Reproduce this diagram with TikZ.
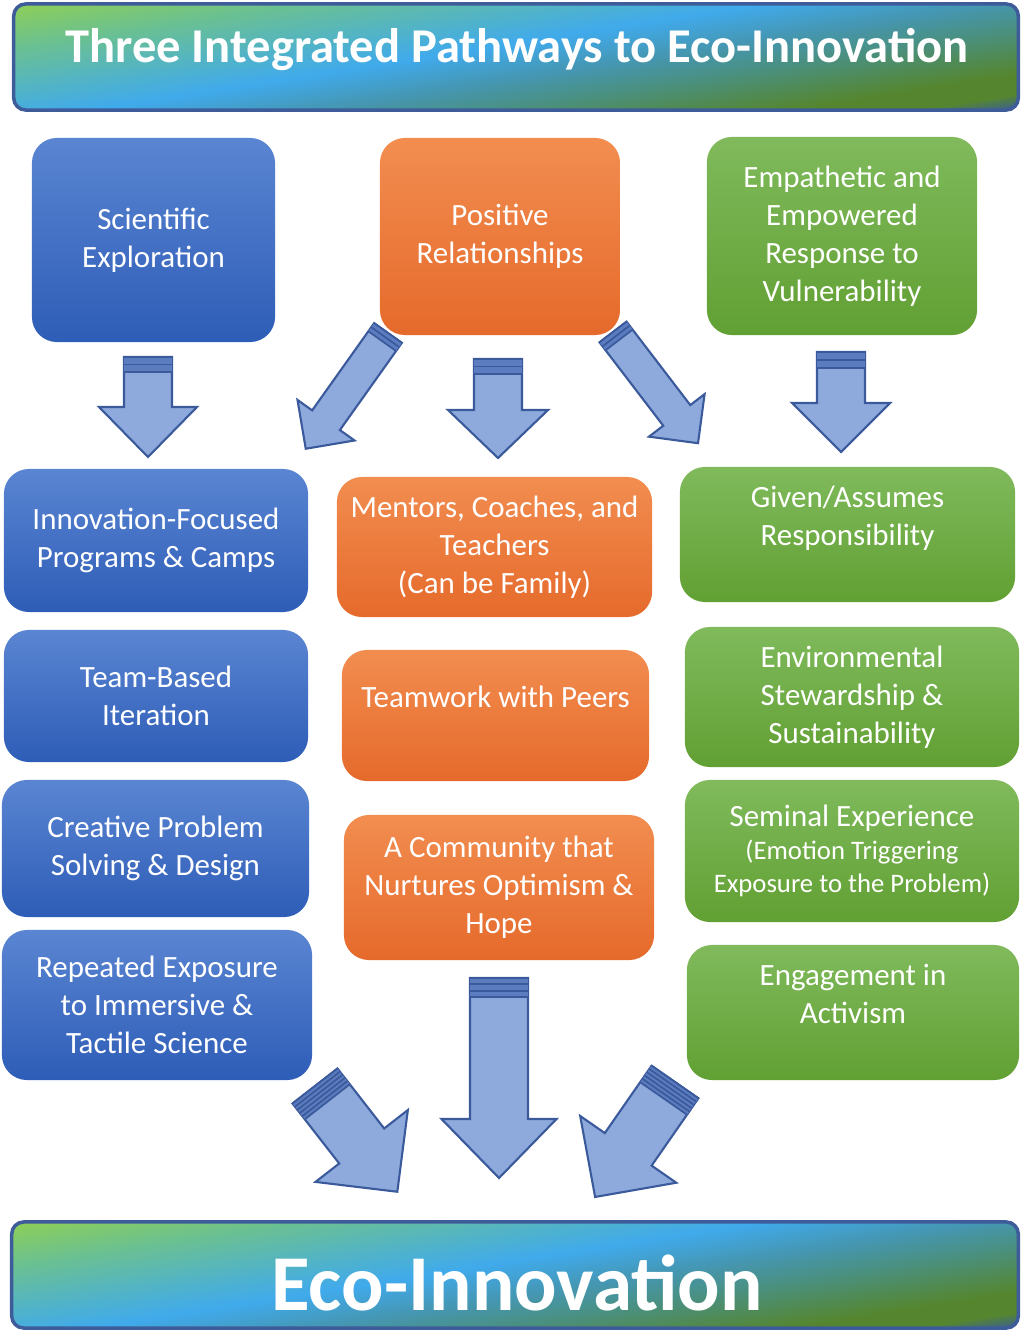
\documentclass[tikz,border=0pt]{standalone}
\usepackage{fontspec}
\setmainfont{Carlito}
\definecolor{BlueTop}{HTML}{5A85D2}
\definecolor{BlueBot}{HTML}{2E5DB7}
\definecolor{OrangeTop}{HTML}{F28D50}
\definecolor{OrangeBot}{HTML}{E56A2B}
\definecolor{GreenTop}{HTML}{80BA5C}
\definecolor{GreenBot}{HTML}{61A033}
\definecolor{ArrowFill}{HTML}{8EAADC}
\definecolor{ArrowEdge}{HTML}{3A5A9C}
\definecolor{ArrowBand}{HTML}{5C7CC0}
\definecolor{BarEdge}{HTML}{3E5C9A}
\definecolor{BarDark}{HTML}{3B5C9C}
\definecolor{BarOlive}{HTML}{55862F}
\definecolor{BarTeal}{HTML}{4A9080}
\definecolor{BarSlate}{HTML}{4596B0}
\definecolor{BarBlue}{HTML}{40AAEC}
\definecolor{BarAqua}{HTML}{55B5C0}
\definecolor{BarMint}{HTML}{6AC092}
\definecolor{BarLime}{HTML}{8ECF56}
\pgfdeclareverticalshading{ecobar}{100bp}{color(0bp)=(BarDark); color(43.5bp)=(BarDark);
  color(44.3bp)=(BarOlive); color(45.3bp)=(BarOlive); color(47.5bp)=(BarTeal);
  color(48.9bp)=(BarSlate); color(50.7bp)=(BarBlue); color(52.5bp)=(BarAqua);
  color(54.3bp)=(BarMint); color(56.5bp)=(BarLime); color(100bp)=(BarLime)}
\tikzset{
  pathbox/.style={rounded corners=0.25cm, inner sep=0pt, outer sep=0pt, align=center,
    text=white, font=\fontsize{8.8}{10.8}\selectfont},
  bluebox/.style={pathbox, top color=BlueTop, bottom color=BlueBot},
  orangebox/.style={pathbox, top color=OrangeTop, bottom color=OrangeBot},
  greenbox/.style={pathbox, top color=GreenTop, bottom color=GreenBot},
  ecobarbox/.style={rounded corners=0.12cm, inner sep=0pt, draw=BarEdge, line width=1pt,
    minimum height=1.06cm, path picture={
      \shade[shading=ecobar, shading angle=9]
        ([shift={(-505,-505)}]path picture bounding box.center) rectangle
        ([shift={(505,505)}]path picture bounding box.center);}},
  bartext/.style={anchor=base, text=white},
  arrowbody/.style={fill=ArrowFill, draw=ArrowEdge, line width=0.6pt, line join=miter},
  arrowband/.style={fill=ArrowBand},
  arrowline/.style={draw=ArrowEdge, line width=0.5pt}
}
% block arrow: tail, angle, length, shaft, head width, head length, band, lines
\newcommand{\BlockArrow}[8]{%
  \begin{scope}[shift={#1}, rotate=#2]
    \draw[arrowbody] (-#4/2,0) -- (-#4/2,#3-#6) -- (-#5/2,#3-#6) -- (0,#3)
      -- (#5/2,#3-#6) -- (#4/2,#3-#6) -- (#4/2,0) -- cycle;
    \fill[arrowband] (-#4/2,0) rectangle (#4/2,#7);
    \draw[arrowline] (-#4/2,0) -- (#4/2,0);
    \foreach \k in {1,...,#8}
      \draw[arrowline] (-#4/2,{#7*\k/#8}) -- (#4/2,{#7*\k/#8});
  \end{scope}}

\begin{document}
\begin{tikzpicture}[x=0.01cm, y=-0.01cm]
\useasboundingbox (0,0) rectangle (1021,1331);

% title bar
\node[ecobarbox, minimum width=10.04cm] (title) at (516,57) {};
\node[bartext, font=\fontsize{13.8}{16}\bfseries] (titletext) at (517,63)
  {Three Integrated Pathways to Eco-Innovation};

% three pathways
\node[bluebox, minimum width=2.43cm, minimum height=2.04cm] (sciexp) at (153.5,240)
  {Scientific\\Exploration};
\node[orangebox, minimum width=2.40cm, minimum height=1.97cm] (posrel) at (500,236.5)
  {Positive\\Relationships};
\node[greenbox, minimum width=2.70cm, minimum height=1.98cm] (empath) at (842,236)
  {Empathetic and\\Empowered\\Response to\\Vulnerability};

% arrows from the pathways
\BlockArrow{(148,357)}{0}{100}{48}{98}{50}{15}{2}
\BlockArrow{(498,359)}{0}{99}{48}{100}{48}{15}{2}
\BlockArrow{(841,352)}{0}{100}{48}{98}{49}{16}{2}
\BlockArrow{(388,333)}{-35.4}{142}{34}{70}{35}{10}{2}
\BlockArrow{(613,332)}{37.4}{140}{34}{70}{35}{10}{2}

% scientific column
\node[bluebox, minimum width=3.04cm, minimum height=1.43cm] (innov) at (156,540.5)
  {Innovation-Focused\\Programs \& Camps};
\node[bluebox, minimum width=3.04cm, minimum height=1.32cm] (teambased) at (156,696)
  {Team-Based\\Iteration};
\node[bluebox, minimum width=3.07cm, minimum height=1.37cm] (creative) at (155.5,848.5)
  {Creative Problem\\Solving \& Design};
\node[bluebox, minimum width=3.10cm, minimum height=1.50cm] (repeated) at (157,1005)
  {Repeated Exposure\\to Immersive \&\\Tactile Science};

% relationships column
\node[orangebox, minimum width=3.15cm, minimum height=1.40cm] (mentors) at (494.5,547)
  {Mentors, Coaches, and\\Teachers\\(Can be Family)};
\node[orangebox, minimum width=3.07cm, minimum height=1.31cm] (teamwork) at (495.5,715.5)
  {Teamwork with Peers\\~};
\node[orangebox, minimum width=3.10cm, minimum height=1.45cm] (community) at (499,887.5)
  {A Community that\\Nurtures Optimism \&\\Hope};

% vulnerability column
\node[greenbox, minimum width=3.35cm, minimum height=1.35cm] (given) at (847.5,534.5)
  {Given/Assumes\\Responsibility\\~};
\node[greenbox, minimum width=3.34cm, minimum height=1.40cm] (environ) at (852,697)
  {Environmental\\Stewardship \&\\Sustainability};
\node[greenbox, minimum width=3.34cm, minimum height=1.42cm,
  font=\fontsize{7.6}{9.4}\selectfont] (seminal) at (852,851)
  {{\fontsize{8.8}{9.4}\selectfont Seminal Experience}\\(Emotion Triggering\\Exposure to the Problem)};
\node[greenbox, minimum width=3.32cm, minimum height=1.35cm] (activism) at (853,1012.5)
  {Engagement in\\Activism\\~};

% arrows to the goal
\BlockArrow{(315,1086)}{37.9}{134}{57}{117}{58}{20}{5}
\BlockArrow{(499,978)}{0}{200}{58}{115}{59}{19}{3}
\BlockArrow{(675,1082)}{-34.8}{140}{57}{117}{58}{20}{5}

% goal bar
\node[ecobarbox, minimum width=10.06cm] (goal) at (515,1275) {};
\node[bartext, font=\fontsize{22.5}{26}\bfseries] (goaltext) at (517,1310)
  {Eco-Innovation};
\end{tikzpicture}
\end{document}
